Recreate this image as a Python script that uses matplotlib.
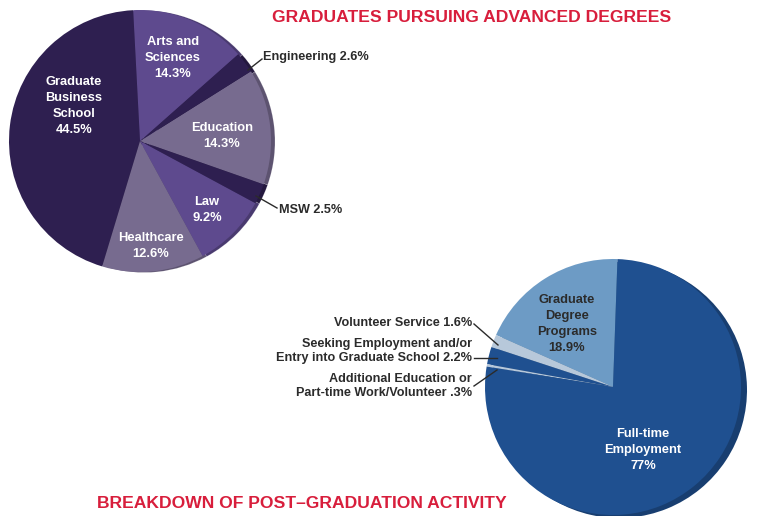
import matplotlib
matplotlib.use("Agg")
import matplotlib.pyplot as plt
import matplotlib.colors as mcolors

# ---- data ----
adv_labels = ["Graduate\nBusiness\nSchool", "Healthcare", "Law", "MSW", "Education", "Engineering", "Arts and\nSciences"]
adv_values = [44.5, 12.6, 9.2, 2.5, 14.3, 2.6, 14.3]
adv_pct = ["44.5%", "12.6%", "9.2%", "2.5%", "14.3%", "2.6%", "14.3%"]

post_labels = ["Graduate\nDegree\nPrograms", "Volunteer Service", "Seeking Employment and/or\nEntry into Graduate School",
               "Additional Education or\nPart-time Work/Volunteer", "Full-time\nEmployment"]
post_values = [18.9, 1.6, 2.2, 0.3, 77.0]
post_pct = ["18.9%", "1.6%", "2.2%", ".3%", "77%"]

title_top = "GRADUATES PURSUING ADVANCED DEGREES"
title_bottom = "BREAKDOWN OF POST\u2013GRADUATION ACTIVITY"

# ---- styles ----
W, H = 759, 516
RED = "#d81e3c"
DARK = "#2b2b2b"
adv_colors = ["#2e1f50", "#776b8f", "#5e4a8e", "#2e1f50", "#776b8f", "#2e1f50", "#5e4a8e"]
post_colors = ["#6d9bc5", "#b7c8da", "#1f5090", "#b7c8da", "#1f5090"]

def darker(c, f=0.78):
    r, g, b = mcolors.to_rgb(c)
    return (r * f, g * f, b * f)

fig = plt.figure(figsize=(W / 100, H / 100), dpi=100)
ax = fig.add_axes([0, 0, 1, 1])
ax.set_xlim(0, W)
ax.set_ylim(0, H)
ax.set_aspect("equal")
ax.axis("off")

def Y(y):
    return H - y

FONT = "Liberation Sans"

# ---- top pie ----
c1 = (140, Y(141))
r1 = 131
ax.pie(adv_values, colors=[darker(c) for c in adv_colors], startangle=93, counterclock=True,
       center=(c1[0] + 4, c1[1] - 0.5), radius=r1, frame=True,
       wedgeprops=dict(linewidth=0.4, edgecolor=(1, 1, 1, 0.25)))
ax.pie(adv_values, colors=adv_colors, startangle=93, counterclock=True,
       center=c1, radius=r1, frame=True, wedgeprops=dict(linewidth=0))

lab_kw = dict(color="white", fontsize=9.3, fontweight="bold", ha="center", va="center",
              family=FONT, linespacing=1.44)
inside_top = {0: (74, 106), 1: (151, 246), 2: (207, 210), 4: (222, 136), 6: (173, 58)}
for i, (x, y) in inside_top.items():
    ax.text(x, Y(y), adv_labels[i] + "\n" + adv_pct[i], **lab_kw)

out_kw = dict(color=DARK, fontsize=9.1, fontweight="bold", va="center", family=FONT)
ax.text(263, Y(57), adv_labels[5] + " " + adv_pct[5], ha="left", **out_kw)
ax.plot([248, 262], [Y(70), Y(59)], color=DARK, lw=1)
ax.text(279, Y(210), adv_labels[3] + " " + adv_pct[3], ha="left", **out_kw)
ax.plot([256, 277], [Y(196), Y(208)], color=DARK, lw=1)

# ---- bottom pie ----
c2 = (613, Y(387))
r2 = 128
ax.pie(post_values, colors=[darker(c) for c in post_colors], startangle=88, counterclock=True,
       center=(c2[0] + 6, c2[1] - 3), radius=r2, frame=True,
       wedgeprops=dict(linewidth=0))
ax.pie(post_values, colors=post_colors, startangle=88, counterclock=True,
       center=c2, radius=r2, frame=True, wedgeprops=dict(linewidth=0))

ax.text(567, Y(324), post_labels[0] + "\n" + post_pct[0], color=DARK, fontsize=9.3, fontweight="bold",
        ha="center", va="center", family=FONT, linespacing=1.44)
ax.text(643, Y(450), post_labels[4] + "\n" + post_pct[4], **lab_kw)

ax.text(472, Y(323), post_labels[1] + " " + post_pct[1], ha="right", **out_kw, linespacing=1.15)
ax.plot([474, 498], [Y(324), Y(345)], color=DARK, lw=1)
ax.text(472, Y(351), post_labels[2] + " " + post_pct[2], ha="right", **out_kw, linespacing=1.15)
ax.plot([474, 497], [Y(358), Y(358)], color=DARK, lw=1)
ax.text(472, Y(386), post_labels[3] + " " + post_pct[3], ha="right", **out_kw, linespacing=1.15)
ax.plot([474, 497], [Y(386), Y(370)], color=DARK, lw=1)

# ---- titles ----
ax.text(472, Y(18), title_top, color=RED, fontsize=12.6, fontweight="bold", ha="center", va="center", family=FONT)
ax.text(302, Y(503), title_bottom, color=RED, fontsize=12.6, fontweight="bold", ha="center", va="center", family=FONT)

ax.set_xlim(0, W)
ax.set_ylim(0, H)
fig.savefig("out.png", dpi=100, facecolor="white")
